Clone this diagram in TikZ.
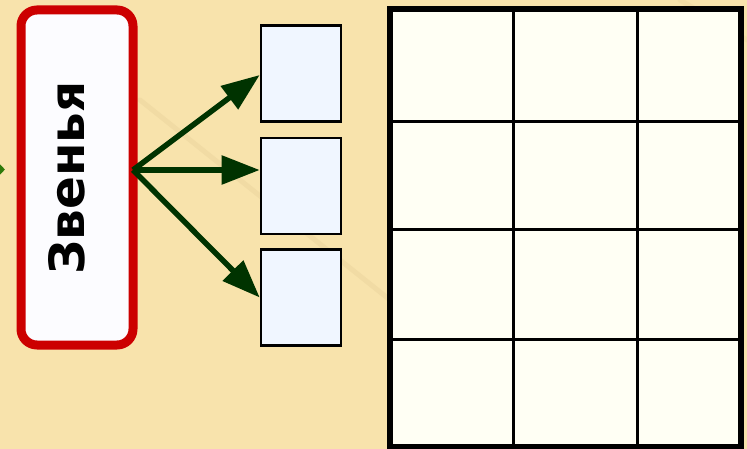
\documentclass[tikz,border=0pt]{standalone}
\usepackage{fontspec}
\newfontfamily\lblfont{DejaVu Sans Bold}
\usetikzlibrary{arrows.meta,calc}
\definecolor{paper}{HTML}{F8E3AC}
\definecolor{streak}{HTML}{D9C08A}
\definecolor{redline}{HTML}{CC0000}
\definecolor{boxfill}{HTML}{FCFCFF}
\definecolor{smallfill}{HTML}{F0F6FF}
\definecolor{gridfill}{HTML}{FFFFF4}
\definecolor{arrowgreen}{HTML}{003300}
\definecolor{lightgreen}{HTML}{2F7A0A}
\tikzset{
  conn/.style={draw=arrowgreen, line width=5.5pt, -{Triangle[length=38pt,width=28pt]}},
  smallbox/.style={draw=black, line width=2.6pt, fill=smallfill, minimum width=80pt, minimum height=96pt, inner sep=0pt},
  redbox/.style={draw=redline, line width=9pt, fill=boxfill, rounded corners=16pt, minimum width=112pt, minimum height=335pt, inner sep=0pt},
  gridline/.style={draw=black, line width=3pt},
}
\begin{document}
\begin{tikzpicture}[x=1pt,y=-1pt]
\fill[paper] (0,0) rectangle (747,449);
\useasboundingbox (0,0) rectangle (747,449);
% faint streaks of the paper
\draw[streak, line width=5pt, opacity=0.22, line cap=round] (140,100) -- (390,300);
\draw[streak, line width=5pt, opacity=0.15, line cap=round] (680,0) -- (747,40);
% partial arrow entering from the left
\coordinate (inS) at (-40,169.5);
\coordinate (inE) at (5,169.5);
\begin{scope}
\clip (0,0) rectangle (747,449);
\draw[draw=lightgreen, line width=5pt, -{Triangle[length=15pt,width=30pt]}] (inS) -- (inE);
\end{scope}
% red box
\node[redbox] (red) at (77,177.5) {};
\node[rotate=90, font=\lblfont\fontsize{48.5}{48.5}\selectfont] (lbl) at (67,178) {Звенья};
% small boxes
\node[smallbox] (b1) at (301,73.5) {};
\node[smallbox] (b2) at (301,186) {};
\node[smallbox] (b3) at (301,297.5) {};
\coordinate (src) at (133,170);
\draw[conn] (src) -- ($(b1.west)+(0,1.5)$);
\draw[conn] (src) -- (src -| b2.west);
\draw[conn] (src) -- (b3.west);
% grid
\fill[gridfill] (389.5,9.5) rectangle (740.5,447);
\foreach \xx in {513,637} \draw[gridline] (\xx,9.5) -- (\xx,447);
\foreach \yy in {122,230,339} \draw[gridline] (389.5,\yy) -- (740.5,\yy);
\draw[black, line width=6pt] (389.5,9.5) rectangle (740.5,447);
\end{tikzpicture}
\end{document}
